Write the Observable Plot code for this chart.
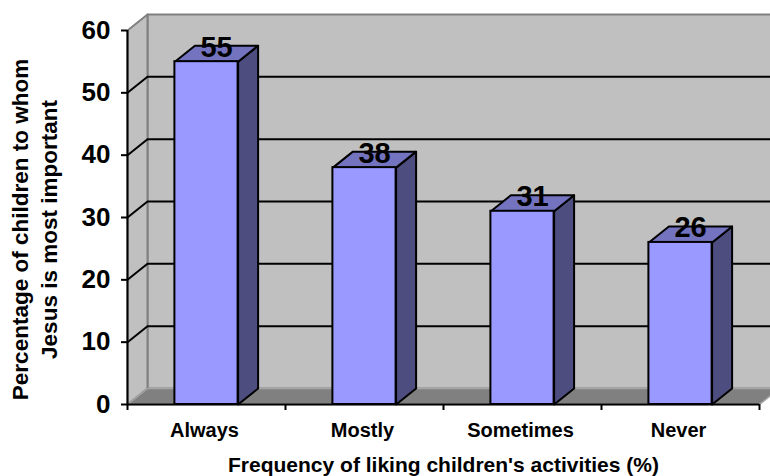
<!DOCTYPE html>
<html>
<head>
<meta charset="utf-8">
<script src="https://cdn.jsdelivr.net/npm/d3@7"></script>
<script src="https://cdn.jsdelivr.net/npm/@observablehq/plot@0.6"></script>
<style>
  html, body { margin: 0; padding: 0; background: #ffffff; }
  #chart svg { display: block; }
</style>
</head>
<body>
<div id="chart"></div>
<script>
// Survey result: share of children naming Jesus as most important,
// by how often they like children's activities.
const categories = ["Always", "Mostly", "Sometimes", "Never"];
const values = [55, 38, 31, 26];
const yTicks = [0, 10, 20, 30, 40, 50, 60];
const gridValues = [10, 20, 30, 40, 50];
const xTitle = "Frequency of liking children's activities (%)";
const yTitleLines = ["Percentage of children to whom", "Jesus is most important"];

// Frame geometry (pixels)
const W = 770, H = 476;
const margin = {top: 30, right: 11, bottom: 72, left: 127};
const yMax = 60;
const nCat = categories.length;
const pxPerCat = (W - margin.left - margin.right) / nCat;
const pxPerUnit = (H - margin.top - margin.bottom) / yMax;

// Oblique depth of the 3-D box, expressed in data units of each axis
const depthX = 20 / pxPerCat;
const depthY = 16 / pxPerUnit;
const halfBar = 0.2;

const font = "'Liberation Sans', Arial, Helvetica, sans-serif";

// Polygons: walls and floor of the chart box
const poly = (id, pts) => pts.map(([x, y]) => ({id, x, y}));
const backWall = poly("back", [[depthX, depthY], [nCat + depthX, depthY], [nCat + depthX, yMax + depthY], [depthX, yMax + depthY]]);
const sideWall = poly("side", [[0, 0], [depthX, depthY], [depthX, yMax + depthY], [0, yMax]]);
const floor = poly("floor", [[0, 0], [nCat, 0], [nCat + depthX, depthY], [depthX, depthY]]);

// Bar faces
const bars = categories.map((c, i) => ({c, v: values[i], xl: i + 0.5 - halfBar, xr: i + 0.5 + halfBar, xm: i + 0.5}));
const sideFaces = bars.flatMap((b) => poly(b.c, [[b.xr, 0], [b.xr + depthX, depthY], [b.xr + depthX, b.v + depthY], [b.xr, b.v]]));
const topFaces = bars.flatMap((b) => poly(b.c, [[b.xl, b.v], [b.xr, b.v], [b.xr + depthX, b.v + depthY], [b.xl + depthX, b.v + depthY]]));

const chart = Plot.plot({
  width: W,
  height: H,
  marginTop: margin.top,
  marginRight: margin.right,
  marginBottom: margin.bottom,
  marginLeft: margin.left,
  style: {fontFamily: font, background: "#ffffff", color: "#000000", overflow: "visible"},
  x: {type: "linear", domain: [0, nCat], axis: null},
  y: {type: "linear", domain: [0, yMax], axis: null},
  marks: [
    // walls and floor
    Plot.line(backWall, {x: "x", y: "y", z: "id", curve: "linear-closed", fill: "#c0c0c0", stroke: "#808080", strokeWidth: 2}),
    Plot.line(sideWall, {x: "x", y: "y", z: "id", curve: "linear-closed", fill: "#c0c0c0", stroke: "#808080", strokeWidth: 2}),
    Plot.line(floor, {x: "x", y: "y", z: "id", curve: "linear-closed", fill: "#808080", stroke: "#a6a6a6", strokeWidth: 1.5}),
    // gridlines on the back wall and the side wall
    Plot.ruleY(gridValues, {y: (d) => d + depthY, x1: depthX, x2: nCat + depthX, stroke: "#000000", strokeWidth: 2}),
    Plot.link(gridValues, {x1: 0, y1: (d) => d, x2: depthX, y2: (d) => d + depthY, stroke: "#000000", strokeWidth: 2}),
    // bars
    Plot.line(sideFaces, {x: "x", y: "y", z: "id", curve: "linear-closed", fill: "#4d4d80", stroke: "#000000", strokeWidth: 2, strokeLinejoin: "round"}),
    Plot.line(topFaces, {x: "x", y: "y", z: "id", curve: "linear-closed", fill: "#7373bf", stroke: "#000000", strokeWidth: 2, strokeLinejoin: "round"}),
    Plot.rect(bars, {x1: "xl", x2: "xr", y1: 0, y2: "v", fill: "#9999ff", stroke: "#000000", strokeWidth: 2}),
    // axes
    Plot.ruleX([0], {y1: 0, y2: yMax, stroke: "#000000", strokeWidth: 2}),
    Plot.ruleY([0], {x1: 0, x2: nCat, stroke: "#000000", strokeWidth: 2}),
    Plot.ruleY(yTicks, {y: (d) => d, x1: 0, x2: -6 / pxPerCat, stroke: "#000000", strokeWidth: 2}),
    Plot.ruleX(d3.range(nCat + 1), {x: (d) => d, y1: 0, y2: -6 / pxPerUnit, stroke: "#000000", strokeWidth: 2}),
    // tick labels
    Plot.text(yTicks, {x: 0, y: (d) => d, text: (d) => String(d), dx: -17, textAnchor: "end", lineAnchor: "middle", fontSize: 26, fontWeight: "bold", fill: "#000000"}),
    Plot.text(bars, {x: "xm", y: 0, text: "c", dx: -2, dy: 32, lineAnchor: "bottom", fontSize: 20, fontWeight: "bold", fill: "#000000"}),
    // value labels on top of each bar
    Plot.text(bars, {x: (d) => d.xm + depthX / 2, y: "v", text: (d) => String(d.v), dy: -5, lineAnchor: "bottom", fontSize: 29, fontWeight: "bold", fill: "#000000"}),
    // axis titles
    Plot.text([xTitle], {x: nCat / 2, y: 0, text: (d) => d, dy: 67, lineAnchor: "bottom", fontSize: 21, fontWeight: "bold", fill: "#000000"}),
    Plot.text([yTitleLines[0]], {frameAnchor: "left", text: (d) => d, dx: -100, dy: 12, rotate: -90, textAnchor: "middle", lineAnchor: "bottom", fontSize: 22.5, fontWeight: "bold", fill: "#000000"}),
    Plot.text([yTitleLines[1]], {frameAnchor: "left", text: (d) => d, dx: -71, dy: 12, rotate: -90, textAnchor: "middle", lineAnchor: "bottom", fontSize: 22.5, fontWeight: "bold", fill: "#000000"})
  ]
});

document.getElementById("chart").appendChild(chart);
</script>
</body>
</html>
